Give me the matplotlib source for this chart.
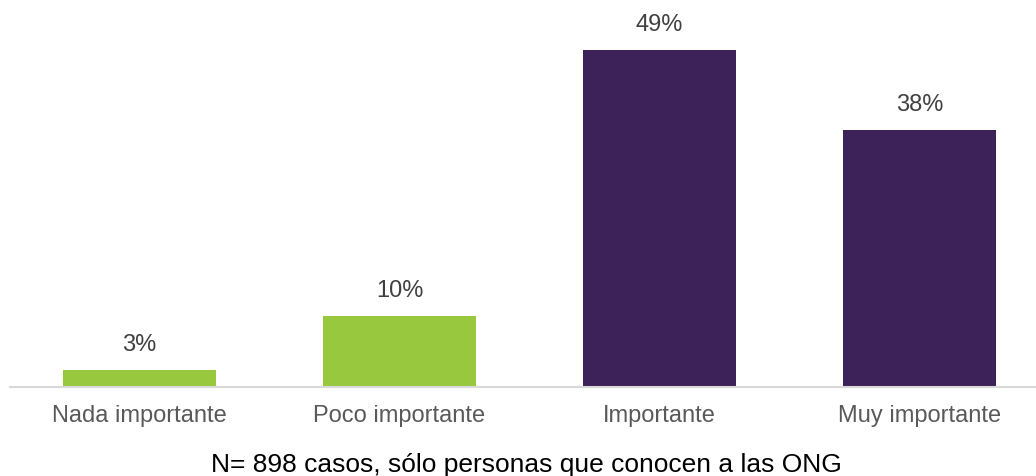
import matplotlib
matplotlib.use("Agg")
import matplotlib.pyplot as plt

categories = ["Nada importante", "Poco importante", "Importante", "Muy importante"]
values = [2.5, 10.4, 49.2, 37.6]
value_labels = ["3%", "10%", "49%", "38%"]
colors = ["#97C83E", "#97C83E", "#3D2159", "#3D2159"]
footnote = "N= 898 casos, sólo personas que conocen a las ONG"

plt.rcParams['font.family'] = ['Liberation Sans', 'DejaVu Sans']

W, H = 1036, 477
fig = plt.figure(figsize=(W / 100, H / 100), dpi=100)
left, right, bottom, top = 9.5, 1049.5, 388, 0
ax = fig.add_axes([left / W, (H - bottom) / H, (right - left) / W, (bottom - top) / H])

x = range(len(categories))
bars = ax.bar(x, values, width=0.59, color=colors)
ax.set_xlim(-0.5, 3.5)
ax.set_ylim(0, 388 / 6.84)

for b, lab in zip(bars, value_labels):
    ax.annotate(lab, (b.get_x() + b.get_width() / 2, b.get_height()),
                xytext=(0, 11), textcoords="offset points",
                ha="center", va="bottom", fontsize=17, color="#404040")

ax.set_xticks(list(x))
ax.set_xticklabels(categories, fontsize=17, color="#595959")
ax.tick_params(axis="x", length=0, pad=12)
ax.set_yticks([])
for s in ["top", "right", "left"]:
    ax.spines[s].set_visible(False)
ax.spines["bottom"].set_color("#D9D9D9")
ax.spines["bottom"].set_linewidth(1.5)

fig.text(526 / W, 12 / H, footnote, ha="center", va="center", fontsize=19, color="#000000")

fig.savefig("out.png", dpi=100)
